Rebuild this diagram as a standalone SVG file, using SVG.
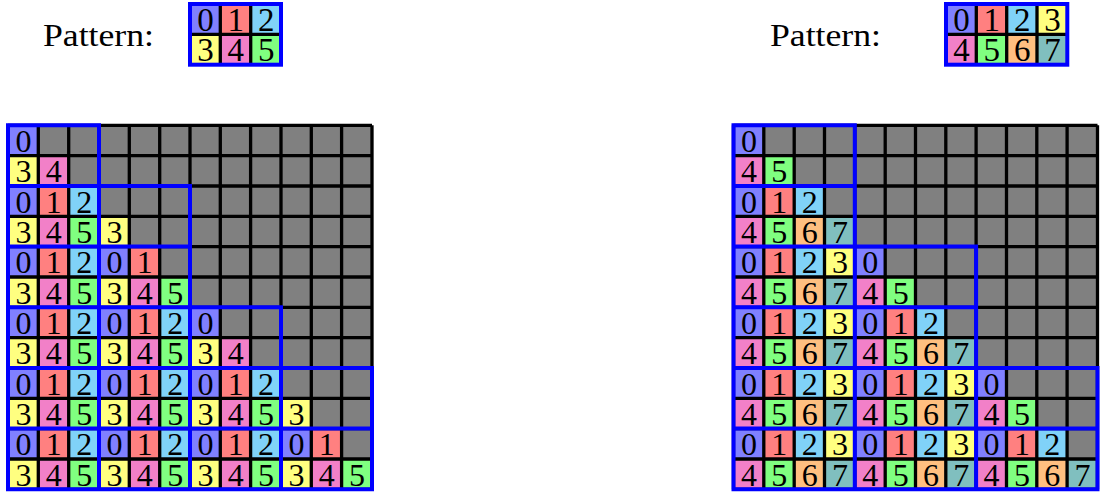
<svg xmlns="http://www.w3.org/2000/svg" width="1102" height="493" viewBox="0 0 1102 493">
<style>
text{font-family:"Liberation Serif","Times New Roman",serif;font-size:32px;fill:#000}
.d{text-anchor:middle;font-size:33px}
.c0{fill:#8080ff}.c1{fill:#ff8080}.c2{fill:#80d2f8}.c3{fill:#ffff80}
.c4{fill:#f280c8}.c5{fill:#80ff80}.c6{fill:#ffbf80}.c7{fill:#80bfbf}
.grey{fill:#808080}
.blk{fill:none;stroke:#000;stroke-width:3.3}
.blu{fill:none;stroke:#0000ff;stroke-width:4}
</style>

<g id="pattern-left">
<text x="43" y="46" textLength="111" lengthAdjust="spacingAndGlyphs">Pattern:</text>
<rect class="c0" x="190" y="4" width="30.4" height="30.4"/><rect class="c1" x="220.3" y="4" width="30.4" height="30.4"/><rect class="c2" x="250.7" y="4" width="30.4" height="30.4"/>
<rect class="c3" x="190" y="34.3" width="30.4" height="30.4"/><rect class="c4" x="220.3" y="34.3" width="30.4" height="30.4"/><rect class="c5" x="250.7" y="34.3" width="30.4" height="30.4"/>
<path class="blk" d="M220.3 4V64.7M250.7 4V64.7M190 34.3H281"/>
<text class="d" x="205.5" y="31">0</text><text class="d" x="235.8" y="31">1</text><text class="d" x="266.2" y="31">2</text>
<text class="d" x="205.5" y="61.3">3</text><text class="d" x="235.8" y="61.3">4</text><text class="d" x="266.2" y="61.3">5</text>
<rect class="blu" x="190" y="4" width="91" height="60.7"/>
</g>

<g id="pattern-right">
<text x="770" y="46" textLength="111" lengthAdjust="spacingAndGlyphs">Pattern:</text>
<rect class="c0" x="946" y="4" width="30.4" height="30.4"/><rect class="c1" x="976.3" y="4" width="30.4" height="30.4"/><rect class="c2" x="1006.7" y="4" width="30.4" height="30.4"/><rect class="c3" x="1037" y="4" width="30.4" height="30.4"/>
<rect class="c4" x="946" y="34.3" width="30.4" height="30.4"/><rect class="c5" x="976.3" y="34.3" width="30.4" height="30.4"/><rect class="c6" x="1006.7" y="34.3" width="30.4" height="30.4"/><rect class="c7" x="1037" y="34.3" width="30.4" height="30.4"/>
<path class="blk" d="M976.3 4V64.7M1006.7 4V64.7M1037 4V64.7M946 34.3H1067.3"/>
<text class="d" x="961.5" y="31">0</text><text class="d" x="991.8" y="31">1</text><text class="d" x="1022.2" y="31">2</text><text class="d" x="1052.5" y="31">3</text>
<text class="d" x="961.5" y="61.3">4</text><text class="d" x="991.8" y="61.3">5</text><text class="d" x="1022.2" y="61.3">6</text><text class="d" x="1052.5" y="61.3">7</text>
<rect class="blu" x="946" y="4" width="121.3" height="60.7"/>
</g>

<g id="grid-left">
<rect class="grey" x="8" y="125.3" width="364" height="364"/>
<g transform="translate(0,125.3)">
<rect class="c0" x="8" y="0" width="30.4" height="30.4"/>
</g>
<g transform="translate(0,155.6)">
<rect class="c3" x="8" y="0" width="30.4" height="30.4"/><rect class="c4" x="38.3" y="0" width="30.4" height="30.4"/>
</g>
<g transform="translate(0,186)">
<rect class="c0" x="8" y="0" width="30.4" height="30.4"/><rect class="c1" x="38.3" y="0" width="30.4" height="30.4"/><rect class="c2" x="68.7" y="0" width="30.4" height="30.4"/>
</g>
<g transform="translate(0,216.3)">
<rect class="c3" x="8" y="0" width="30.4" height="30.4"/><rect class="c4" x="38.3" y="0" width="30.4" height="30.4"/><rect class="c5" x="68.7" y="0" width="30.4" height="30.4"/><rect class="c3" x="99" y="0" width="30.4" height="30.4"/>
</g>
<g transform="translate(0,246.6)">
<rect class="c0" x="8" y="0" width="30.4" height="30.4"/><rect class="c1" x="38.3" y="0" width="30.4" height="30.4"/><rect class="c2" x="68.7" y="0" width="30.4" height="30.4"/><rect class="c0" x="99" y="0" width="30.4" height="30.4"/><rect class="c1" x="129.3" y="0" width="30.4" height="30.4"/>
</g>
<g transform="translate(0,277)">
<rect class="c3" x="8" y="0" width="30.4" height="30.4"/><rect class="c4" x="38.3" y="0" width="30.4" height="30.4"/><rect class="c5" x="68.7" y="0" width="30.4" height="30.4"/><rect class="c3" x="99" y="0" width="30.4" height="30.4"/><rect class="c4" x="129.3" y="0" width="30.4" height="30.4"/><rect class="c5" x="159.7" y="0" width="30.4" height="30.4"/>
</g>
<g transform="translate(0,307.3)">
<rect class="c0" x="8" y="0" width="30.4" height="30.4"/><rect class="c1" x="38.3" y="0" width="30.4" height="30.4"/><rect class="c2" x="68.7" y="0" width="30.4" height="30.4"/><rect class="c0" x="99" y="0" width="30.4" height="30.4"/><rect class="c1" x="129.3" y="0" width="30.4" height="30.4"/><rect class="c2" x="159.7" y="0" width="30.4" height="30.4"/><rect class="c0" x="190" y="0" width="30.4" height="30.4"/>
</g>
<g transform="translate(0,337.6)">
<rect class="c3" x="8" y="0" width="30.4" height="30.4"/><rect class="c4" x="38.3" y="0" width="30.4" height="30.4"/><rect class="c5" x="68.7" y="0" width="30.4" height="30.4"/><rect class="c3" x="99" y="0" width="30.4" height="30.4"/><rect class="c4" x="129.3" y="0" width="30.4" height="30.4"/><rect class="c5" x="159.7" y="0" width="30.4" height="30.4"/><rect class="c3" x="190" y="0" width="30.4" height="30.4"/><rect class="c4" x="220.3" y="0" width="30.4" height="30.4"/>
</g>
<g transform="translate(0,368)">
<rect class="c0" x="8" y="0" width="30.4" height="30.4"/><rect class="c1" x="38.3" y="0" width="30.4" height="30.4"/><rect class="c2" x="68.7" y="0" width="30.4" height="30.4"/><rect class="c0" x="99" y="0" width="30.4" height="30.4"/><rect class="c1" x="129.3" y="0" width="30.4" height="30.4"/><rect class="c2" x="159.7" y="0" width="30.4" height="30.4"/><rect class="c0" x="190" y="0" width="30.4" height="30.4"/><rect class="c1" x="220.3" y="0" width="30.4" height="30.4"/><rect class="c2" x="250.6" y="0" width="30.4" height="30.4"/>
</g>
<g transform="translate(0,398.3)">
<rect class="c3" x="8" y="0" width="30.4" height="30.4"/><rect class="c4" x="38.3" y="0" width="30.4" height="30.4"/><rect class="c5" x="68.7" y="0" width="30.4" height="30.4"/><rect class="c3" x="99" y="0" width="30.4" height="30.4"/><rect class="c4" x="129.3" y="0" width="30.4" height="30.4"/><rect class="c5" x="159.7" y="0" width="30.4" height="30.4"/><rect class="c3" x="190" y="0" width="30.4" height="30.4"/><rect class="c4" x="220.3" y="0" width="30.4" height="30.4"/><rect class="c5" x="250.6" y="0" width="30.4" height="30.4"/><rect class="c3" x="281" y="0" width="30.4" height="30.4"/>
</g>
<g transform="translate(0,428.6)">
<rect class="c0" x="8" y="0" width="30.4" height="30.4"/><rect class="c1" x="38.3" y="0" width="30.4" height="30.4"/><rect class="c2" x="68.7" y="0" width="30.4" height="30.4"/><rect class="c0" x="99" y="0" width="30.4" height="30.4"/><rect class="c1" x="129.3" y="0" width="30.4" height="30.4"/><rect class="c2" x="159.7" y="0" width="30.4" height="30.4"/><rect class="c0" x="190" y="0" width="30.4" height="30.4"/><rect class="c1" x="220.3" y="0" width="30.4" height="30.4"/><rect class="c2" x="250.6" y="0" width="30.4" height="30.4"/><rect class="c0" x="281" y="0" width="30.4" height="30.4"/><rect class="c1" x="311.3" y="0" width="30.4" height="30.4"/>
</g>
<g transform="translate(0,459)">
<rect class="c3" x="8" y="0" width="30.4" height="30.3"/><rect class="c4" x="38.3" y="0" width="30.4" height="30.3"/><rect class="c5" x="68.7" y="0" width="30.4" height="30.3"/><rect class="c3" x="99" y="0" width="30.4" height="30.3"/><rect class="c4" x="129.3" y="0" width="30.4" height="30.3"/><rect class="c5" x="159.7" y="0" width="30.4" height="30.3"/><rect class="c3" x="190" y="0" width="30.4" height="30.3"/><rect class="c4" x="220.3" y="0" width="30.4" height="30.3"/><rect class="c5" x="250.6" y="0" width="30.4" height="30.3"/><rect class="c3" x="281" y="0" width="30.4" height="30.3"/><rect class="c4" x="311.3" y="0" width="30.4" height="30.3"/><rect class="c5" x="341.6" y="0" width="30.4" height="30.3"/>
</g>
<path class="blk" d="M8 125.3V489.3M38.3 125.3V489.3M68.7 125.3V489.3M99 125.3V489.3M129.3 125.3V489.3M159.7 125.3V489.3M190 125.3V489.3M220.3 125.3V489.3M250.6 125.3V489.3M281 125.3V489.3M311.3 125.3V489.3M341.6 125.3V489.3M372 125.3V489.3M8 125.3H372M8 155.6H372M8 186H372M8 216.3H372M8 246.6H372M8 277H372M8 307.3H372M8 337.6H372M8 368H372M8 398.3H372M8 428.6H372M8 459H372M8 489.3H372"/>
<g class="d" transform="translate(-0.5,0)">
<text x="24" y="152.1">0</text>
<text x="24" y="182.4">3</text><text x="54.3" y="182.4">4</text>
<text x="24" y="212.8">0</text><text x="54.3" y="212.8">1</text><text x="84.7" y="212.8">2</text>
<text x="24" y="243.1">3</text><text x="54.3" y="243.1">4</text><text x="84.7" y="243.1">5</text><text x="115" y="243.1">3</text>
<text x="24" y="273.4">0</text><text x="54.3" y="273.4">1</text><text x="84.7" y="273.4">2</text><text x="115" y="273.4">0</text><text x="145.3" y="273.4">1</text>
<text x="24" y="303.8">3</text><text x="54.3" y="303.8">4</text><text x="84.7" y="303.8">5</text><text x="115" y="303.8">3</text><text x="145.3" y="303.8">4</text><text x="175.7" y="303.8">5</text>
<text x="24" y="334.1">0</text><text x="54.3" y="334.1">1</text><text x="84.7" y="334.1">2</text><text x="115" y="334.1">0</text><text x="145.3" y="334.1">1</text><text x="175.7" y="334.1">2</text><text x="206" y="334.1">0</text>
<text x="24" y="364.4">3</text><text x="54.3" y="364.4">4</text><text x="84.7" y="364.4">5</text><text x="115" y="364.4">3</text><text x="145.3" y="364.4">4</text><text x="175.7" y="364.4">5</text><text x="206" y="364.4">3</text><text x="236.3" y="364.4">4</text>
<text x="24" y="394.8">0</text><text x="54.3" y="394.8">1</text><text x="84.7" y="394.8">2</text><text x="115" y="394.8">0</text><text x="145.3" y="394.8">1</text><text x="175.7" y="394.8">2</text><text x="206" y="394.8">0</text><text x="236.3" y="394.8">1</text><text x="266.6" y="394.8">2</text>
<text x="24" y="425.1">3</text><text x="54.3" y="425.1">4</text><text x="84.7" y="425.1">5</text><text x="115" y="425.1">3</text><text x="145.3" y="425.1">4</text><text x="175.7" y="425.1">5</text><text x="206" y="425.1">3</text><text x="236.3" y="425.1">4</text><text x="266.6" y="425.1">5</text><text x="297" y="425.1">3</text>
<text x="24" y="455.4">0</text><text x="54.3" y="455.4">1</text><text x="84.7" y="455.4">2</text><text x="115" y="455.4">0</text><text x="145.3" y="455.4">1</text><text x="175.7" y="455.4">2</text><text x="206" y="455.4">0</text><text x="236.3" y="455.4">1</text><text x="266.6" y="455.4">2</text><text x="297" y="455.4">0</text><text x="327.3" y="455.4">1</text>
<text x="24" y="485.8">3</text><text x="54.3" y="485.8">4</text><text x="84.7" y="485.8">5</text><text x="115" y="485.8">3</text><text x="145.3" y="485.8">4</text><text x="175.7" y="485.8">5</text><text x="206" y="485.8">3</text><text x="236.3" y="485.8">4</text><text x="266.6" y="485.8">5</text><text x="297" y="485.8">3</text><text x="327.3" y="485.8">4</text><text x="357.6" y="485.8">5</text>
</g>
<path class="blu" d="M8 125.3h91v60.7h-91z M8 186h91v60.6h-91z M99 186h91v60.6h-91z M8 246.6h91v60.7h-91z M99 246.6h91v60.7h-91z M8 307.3h91v60.7h-91z M99 307.3h91v60.7h-91z M190 307.3h91v60.7h-91z M8 368h91v60.6h-91z M99 368h91v60.6h-91z M190 368h91v60.6h-91z M281 368h91v60.6h-91z M8 428.6h91v60.7h-91z M99 428.6h91v60.7h-91z M190 428.6h91v60.7h-91z M281 428.6h91v60.7h-91z"/>
</g>

<g id="grid-right">
<rect class="grey" x="733.5" y="125.3" width="364" height="364"/>
<g transform="translate(0,125.3)">
<rect class="c0" x="733.5" y="0" width="30.4" height="30.4"/>
</g>
<g transform="translate(0,155.6)">
<rect class="c4" x="733.5" y="0" width="30.4" height="30.4"/><rect class="c5" x="763.8" y="0" width="30.4" height="30.4"/>
</g>
<g transform="translate(0,186)">
<rect class="c0" x="733.5" y="0" width="30.4" height="30.4"/><rect class="c1" x="763.8" y="0" width="30.4" height="30.4"/><rect class="c2" x="794.2" y="0" width="30.4" height="30.4"/>
</g>
<g transform="translate(0,216.3)">
<rect class="c4" x="733.5" y="0" width="30.4" height="30.4"/><rect class="c5" x="763.8" y="0" width="30.4" height="30.4"/><rect class="c6" x="794.2" y="0" width="30.4" height="30.4"/><rect class="c7" x="824.5" y="0" width="30.4" height="30.4"/>
</g>
<g transform="translate(0,246.6)">
<rect class="c0" x="733.5" y="0" width="30.4" height="30.4"/><rect class="c1" x="763.8" y="0" width="30.4" height="30.4"/><rect class="c2" x="794.2" y="0" width="30.4" height="30.4"/><rect class="c3" x="824.5" y="0" width="30.4" height="30.4"/><rect class="c0" x="854.8" y="0" width="30.4" height="30.4"/>
</g>
<g transform="translate(0,277)">
<rect class="c4" x="733.5" y="0" width="30.4" height="30.4"/><rect class="c5" x="763.8" y="0" width="30.4" height="30.4"/><rect class="c6" x="794.2" y="0" width="30.4" height="30.4"/><rect class="c7" x="824.5" y="0" width="30.4" height="30.4"/><rect class="c4" x="854.8" y="0" width="30.4" height="30.4"/><rect class="c5" x="885.2" y="0" width="30.4" height="30.4"/>
</g>
<g transform="translate(0,307.3)">
<rect class="c0" x="733.5" y="0" width="30.4" height="30.4"/><rect class="c1" x="763.8" y="0" width="30.4" height="30.4"/><rect class="c2" x="794.2" y="0" width="30.4" height="30.4"/><rect class="c3" x="824.5" y="0" width="30.4" height="30.4"/><rect class="c0" x="854.8" y="0" width="30.4" height="30.4"/><rect class="c1" x="885.2" y="0" width="30.4" height="30.4"/><rect class="c2" x="915.5" y="0" width="30.4" height="30.4"/>
</g>
<g transform="translate(0,337.6)">
<rect class="c4" x="733.5" y="0" width="30.4" height="30.4"/><rect class="c5" x="763.8" y="0" width="30.4" height="30.4"/><rect class="c6" x="794.2" y="0" width="30.4" height="30.4"/><rect class="c7" x="824.5" y="0" width="30.4" height="30.4"/><rect class="c4" x="854.8" y="0" width="30.4" height="30.4"/><rect class="c5" x="885.2" y="0" width="30.4" height="30.4"/><rect class="c6" x="915.5" y="0" width="30.4" height="30.4"/><rect class="c7" x="945.8" y="0" width="30.4" height="30.4"/>
</g>
<g transform="translate(0,368)">
<rect class="c0" x="733.5" y="0" width="30.4" height="30.4"/><rect class="c1" x="763.8" y="0" width="30.4" height="30.4"/><rect class="c2" x="794.2" y="0" width="30.4" height="30.4"/><rect class="c3" x="824.5" y="0" width="30.4" height="30.4"/><rect class="c0" x="854.8" y="0" width="30.4" height="30.4"/><rect class="c1" x="885.2" y="0" width="30.4" height="30.4"/><rect class="c2" x="915.5" y="0" width="30.4" height="30.4"/><rect class="c3" x="945.8" y="0" width="30.4" height="30.4"/><rect class="c0" x="976.1" y="0" width="30.4" height="30.4"/>
</g>
<g transform="translate(0,398.3)">
<rect class="c4" x="733.5" y="0" width="30.4" height="30.4"/><rect class="c5" x="763.8" y="0" width="30.4" height="30.4"/><rect class="c6" x="794.2" y="0" width="30.4" height="30.4"/><rect class="c7" x="824.5" y="0" width="30.4" height="30.4"/><rect class="c4" x="854.8" y="0" width="30.4" height="30.4"/><rect class="c5" x="885.2" y="0" width="30.4" height="30.4"/><rect class="c6" x="915.5" y="0" width="30.4" height="30.4"/><rect class="c7" x="945.8" y="0" width="30.4" height="30.4"/><rect class="c4" x="976.1" y="0" width="30.4" height="30.4"/><rect class="c5" x="1006.5" y="0" width="30.4" height="30.4"/>
</g>
<g transform="translate(0,428.6)">
<rect class="c0" x="733.5" y="0" width="30.4" height="30.4"/><rect class="c1" x="763.8" y="0" width="30.4" height="30.4"/><rect class="c2" x="794.2" y="0" width="30.4" height="30.4"/><rect class="c3" x="824.5" y="0" width="30.4" height="30.4"/><rect class="c0" x="854.8" y="0" width="30.4" height="30.4"/><rect class="c1" x="885.2" y="0" width="30.4" height="30.4"/><rect class="c2" x="915.5" y="0" width="30.4" height="30.4"/><rect class="c3" x="945.8" y="0" width="30.4" height="30.4"/><rect class="c0" x="976.1" y="0" width="30.4" height="30.4"/><rect class="c1" x="1006.5" y="0" width="30.4" height="30.4"/><rect class="c2" x="1036.8" y="0" width="30.4" height="30.4"/>
</g>
<g transform="translate(0,459)">
<rect class="c4" x="733.5" y="0" width="30.4" height="30.3"/><rect class="c5" x="763.8" y="0" width="30.4" height="30.3"/><rect class="c6" x="794.2" y="0" width="30.4" height="30.3"/><rect class="c7" x="824.5" y="0" width="30.4" height="30.3"/><rect class="c4" x="854.8" y="0" width="30.4" height="30.3"/><rect class="c5" x="885.2" y="0" width="30.4" height="30.3"/><rect class="c6" x="915.5" y="0" width="30.4" height="30.3"/><rect class="c7" x="945.8" y="0" width="30.4" height="30.3"/><rect class="c4" x="976.1" y="0" width="30.4" height="30.3"/><rect class="c5" x="1006.5" y="0" width="30.4" height="30.3"/><rect class="c6" x="1036.8" y="0" width="30.4" height="30.3"/><rect class="c7" x="1067.1" y="0" width="30.4" height="30.3"/>
</g>
<path class="blk" d="M733.5 125.3V489.3M763.8 125.3V489.3M794.2 125.3V489.3M824.5 125.3V489.3M854.8 125.3V489.3M885.2 125.3V489.3M915.5 125.3V489.3M945.8 125.3V489.3M976.1 125.3V489.3M1006.5 125.3V489.3M1036.8 125.3V489.3M1067.1 125.3V489.3M1097.5 125.3V489.3M733.5 125.3H1097.5M733.5 155.6H1097.5M733.5 186H1097.5M733.5 216.3H1097.5M733.5 246.6H1097.5M733.5 277H1097.5M733.5 307.3H1097.5M733.5 337.6H1097.5M733.5 368H1097.5M733.5 398.3H1097.5M733.5 428.6H1097.5M733.5 459H1097.5M733.5 489.3H1097.5"/>
<g class="d" transform="translate(-0.5,0)">
<text x="749.5" y="152.1">0</text>
<text x="749.5" y="182.4">4</text><text x="779.8" y="182.4">5</text>
<text x="749.5" y="212.8">0</text><text x="779.8" y="212.8">1</text><text x="810.2" y="212.8">2</text>
<text x="749.5" y="243.1">4</text><text x="779.8" y="243.1">5</text><text x="810.2" y="243.1">6</text><text x="840.5" y="243.1">7</text>
<text x="749.5" y="273.4">0</text><text x="779.8" y="273.4">1</text><text x="810.2" y="273.4">2</text><text x="840.5" y="273.4">3</text><text x="870.8" y="273.4">0</text>
<text x="749.5" y="303.8">4</text><text x="779.8" y="303.8">5</text><text x="810.2" y="303.8">6</text><text x="840.5" y="303.8">7</text><text x="870.8" y="303.8">4</text><text x="901.2" y="303.8">5</text>
<text x="749.5" y="334.1">0</text><text x="779.8" y="334.1">1</text><text x="810.2" y="334.1">2</text><text x="840.5" y="334.1">3</text><text x="870.8" y="334.1">0</text><text x="901.2" y="334.1">1</text><text x="931.5" y="334.1">2</text>
<text x="749.5" y="364.4">4</text><text x="779.8" y="364.4">5</text><text x="810.2" y="364.4">6</text><text x="840.5" y="364.4">7</text><text x="870.8" y="364.4">4</text><text x="901.2" y="364.4">5</text><text x="931.5" y="364.4">6</text><text x="961.8" y="364.4">7</text>
<text x="749.5" y="394.8">0</text><text x="779.8" y="394.8">1</text><text x="810.2" y="394.8">2</text><text x="840.5" y="394.8">3</text><text x="870.8" y="394.8">0</text><text x="901.2" y="394.8">1</text><text x="931.5" y="394.8">2</text><text x="961.8" y="394.8">3</text><text x="992.1" y="394.8">0</text>
<text x="749.5" y="425.1">4</text><text x="779.8" y="425.1">5</text><text x="810.2" y="425.1">6</text><text x="840.5" y="425.1">7</text><text x="870.8" y="425.1">4</text><text x="901.2" y="425.1">5</text><text x="931.5" y="425.1">6</text><text x="961.8" y="425.1">7</text><text x="992.1" y="425.1">4</text><text x="1022.5" y="425.1">5</text>
<text x="749.5" y="455.4">0</text><text x="779.8" y="455.4">1</text><text x="810.2" y="455.4">2</text><text x="840.5" y="455.4">3</text><text x="870.8" y="455.4">0</text><text x="901.2" y="455.4">1</text><text x="931.5" y="455.4">2</text><text x="961.8" y="455.4">3</text><text x="992.1" y="455.4">0</text><text x="1022.5" y="455.4">1</text><text x="1052.8" y="455.4">2</text>
<text x="749.5" y="485.8">4</text><text x="779.8" y="485.8">5</text><text x="810.2" y="485.8">6</text><text x="840.5" y="485.8">7</text><text x="870.8" y="485.8">4</text><text x="901.2" y="485.8">5</text><text x="931.5" y="485.8">6</text><text x="961.8" y="485.8">7</text><text x="992.1" y="485.8">4</text><text x="1022.5" y="485.8">5</text><text x="1052.8" y="485.8">6</text><text x="1083.1" y="485.8">7</text>
</g>
<path class="blu" d="M733.5 125.3h121.3v60.7h-121.3z M733.5 186h121.3v60.6h-121.3z M733.5 246.6h121.3v60.7h-121.3z M854.8 246.6h121.3v60.7h-121.3z M733.5 307.3h121.3v60.7h-121.3z M854.8 307.3h121.3v60.7h-121.3z M733.5 368h121.3v60.6h-121.3z M854.8 368h121.3v60.6h-121.3z M976.1 368h121.4v60.6h-121.4z M733.5 428.6h121.3v60.7h-121.3z M854.8 428.6h121.3v60.7h-121.3z M976.1 428.6h121.4v60.7h-121.4z"/>
</g>
</svg>
